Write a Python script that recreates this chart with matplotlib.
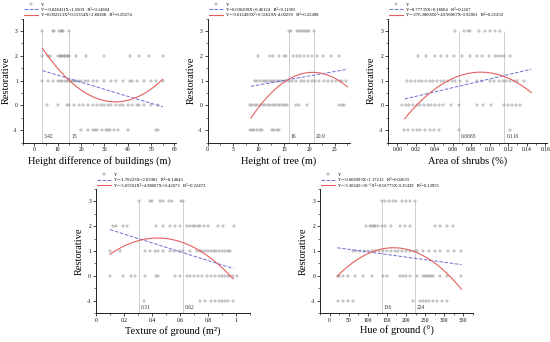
import numpy as np
import matplotlib
matplotlib.use("Agg")
import matplotlib.pyplot as plt
from matplotlib.ticker import AutoMinorLocator, MultipleLocator

plt.rcParams["font.family"] = ["Liberation Serif", "DejaVu Serif"]
plt.rcParams["axes.unicode_minus"] = False

# ── scatter data: x values at each Restorative level ─────────────
bld_pts = {
    3: [3.4, 8.1, 8.5, 10.7, 11.3, 11.7, 12.4, 15.0],
    2: [3.4, 6.0, 6.7, 10.0, 10.8, 11.5, 12.0, 12.6, 13.2, 13.8, 14.4, 15.0,
        18.0, 22.0, 30.0, 41.0, 45.0, 49.0, 55.0],
    1: [3.4, 6.0, 8.0, 10.0, 11.0, 12.0, 13.0, 14.0, 15.0, 15.8, 16.5, 17.2,
        18.0, 19.0, 20.0, 21.5, 23.0, 25.0, 27.0, 30.0, 33.0, 35.0, 38.0,
        41.0, 42.0, 44.0, 47.0, 50.0, 52.0, 55.0],
    0: [5.5, 10.0, 14.0, 15.0, 17.0, 19.0, 21.0, 23.0, 25.0, 27.0, 28.5,
        30.0, 31.5, 33.0, 35.0, 36.5, 38.0, 40.0, 42.0, 44.0, 45.0, 47.0,
        50.0, 53.0],
    -1: [20.0, 23.0, 25.0, 26.0, 27.0, 29.0, 30.5, 31.5, 32.5, 34.0, 36.0,
         40.0, 52.0, 53.0],
}
tree_pts = {
    3: [16.0, 16.4, 17.5, 18.0, 18.4, 18.8, 19.2, 19.6, 20.0, 20.9],
    2: [9.9, 12.3, 12.8, 14.1, 15.0, 15.5, 16.8, 17.5, 18.2, 19.0, 19.7,
        20.5, 21.6, 22.7, 24.3, 25.9],
    1: [9.4, 9.8, 10.3, 10.8, 11.2, 11.7, 12.2, 12.6, 13.1, 13.6, 14.0, 14.5,
        15.0, 15.5, 16.0, 16.6, 17.3, 18.4, 19.0, 19.8, 20.5, 21.2, 22.0,
        22.8, 23.6, 24.5, 25.3, 26.0, 26.4, 27.2],
    0: [8.3, 8.8, 9.3, 9.8, 10.3, 10.8, 11.3, 11.8, 12.3, 12.8, 13.3, 13.8,
        14.3, 14.8, 15.3, 15.7, 17.3, 17.9, 19.5, 25.9, 26.4, 26.9],
    -1: [8.3, 8.7, 9.2, 9.7, 10.2, 10.7, 12.6, 13.1, 13.6, 14.1],
}
shrub_pts = {
    3: [0.063, 0.072, 0.077, 0.079, 0.088, 0.095, 0.100, 0.106, 0.111],
    2: [0.022, 0.031, 0.041, 0.047, 0.054, 0.061, 0.070, 0.079, 0.086, 0.092,
        0.099, 0.106, 0.109, 0.112, 0.115, 0.122],
    1: [0.011, 0.015, 0.019, 0.023, 0.027, 0.031, 0.035, 0.039, 0.043, 0.047,
        0.051, 0.055, 0.059, 0.063, 0.068, 0.075, 0.086, 0.092, 0.100, 0.105,
        0.110, 0.114, 0.118, 0.122, 0.126, 0.130, 0.137],
    0: [0.005, 0.009, 0.013, 0.017, 0.021, 0.025, 0.029, 0.033, 0.037, 0.041,
        0.045, 0.050, 0.058, 0.067, 0.086, 0.093, 0.101, 0.115, 0.120, 0.124,
        0.128, 0.133],
    -1: [0.007, 0.012, 0.017, 0.021, 0.025, 0.030, 0.035, 0.040, 0.045,
         0.067, 0.122],
}
texture_pts = {
    3: [0.31, 0.385, 0.40, 0.46, 0.48, 0.52, 0.54, 0.61, 0.625],
    2: [0.12, 0.14, 0.19, 0.22, 0.43, 0.48, 0.53, 0.565, 0.60, 0.65, 0.67,
        0.69, 0.71, 0.73, 0.745, 0.77, 0.80, 0.87, 0.91, 0.985],
    1: [0.10, 0.17, 0.35, 0.385, 0.42, 0.445, 0.48, 0.53, 0.56, 0.59, 0.62,
        0.67, 0.72, 0.74, 0.76, 0.78, 0.80, 0.82, 0.84, 0.86, 0.88, 0.90,
        0.92, 0.94, 0.96],
    0: [0.10, 0.19, 0.25, 0.28, 0.35, 0.43, 0.445, 0.565, 0.60, 0.65, 0.67,
        0.70, 0.73, 0.76, 0.79, 0.82, 0.85, 0.88, 0.90, 0.92, 0.94, 0.96,
        0.98, 1.01],
    -1: [0.34, 0.745, 0.78, 0.82, 0.85, 0.88, 0.90, 0.92, 0.94, 0.98],
}
hue_pts = {
    3: [136, 145, 155, 165, 175, 190, 200, 210, 224],
    2: [96, 105, 110, 115, 120, 127, 136, 145, 160, 184, 197, 210, 275, 289,
        306, 324],
    1: [62, 70, 80, 90, 100, 110, 120, 130, 140, 150, 160, 170, 180, 190, 200,
        210, 220, 230, 245, 260, 275, 290, 310, 325, 345],
    0: [22, 26, 35, 48, 66, 88, 110, 140, 149, 184, 193, 201, 210, 228, 245,
        250, 255, 260, 265, 270, 289, 306, 345],
    -1: [22, 35, 48, 61, 219, 236, 244, 252, 260, 270, 280, 293, 306],
}

# ── fitted curves (coefficients from the legends) ───────────────
bld_lin = [-0.028411, 1.5009]
bld_quad = [0.002213, -0.15354, 2.80288]
tree_lin = [0.036209, 0.46124]
tree_quad = [-0.012493, 0.51629, -4.00259]
shrub_lin = [8.77735, 0.18684]
shrub_quad = [-276.30600, 49.96967, -0.92001]
texture_lin = [-1.78223, 2.03981]
texture_quad = [-5.65591, 4.98067, 0.42673]
hue_lin = [-0.002093, 1.17212]
hue_quad = [-5.30345e-5, 0.01775, -0.35439]

bld_lbl = ["Y=-0.028411X+1.5009   R²=0.14604",
           "Y=0.002213X²-0.15354X+2.80288   R²=0.29274"]
tree_lbl = ["Y=0.036209X+0.46124   R²=0.11383",
            "Y=-0.012493X²+0.51629X-4.00259   R²=0.22498"]
shrub_lbl = ["Y=8.77735X+0.18684   R²=0.1167",
             "Y=-276.30600X²+49.96967X-0.92001   R²=0.21250"]
texture_lbl = ["Y=-1.78223X+2.03981   R²=0.14643",
               "Y=-5.65591X²+4.98067X+0.42673   R²=0.22472"]
hue_lbl = ["Y=-0.002093X+1.17212   R²=0.02633",
           "Y=-5.30345×10⁻⁵X²+0.01775X-0.35439   R²=0.13955"]

# vertical reference lines (turning points)
bld_vl = [3.42, 15]
tree_vl = [16, 20.9]
shrub_vl = [0.0665, 0.116]
texture_vl = [0.31, 0.62]
hue_vl = [136, 224]

panels = [
    dict(pts=bld_pts, lin=bld_lin, quad=bld_quad, lbl=bld_lbl, vl=bld_vl,
         vl_txt=["3.42", "15"], fit=(3.42, 55), xlim=(-5, 60.5), major=10,
         xlabel="Height difference of buildings (m)", fmt="{:.0f}",
         rect=[0.0413, 0.5833, 0.278, 0.3623]),
    dict(pts=tree_pts, lin=tree_lin, quad=tree_quad, lbl=tree_lbl, vl=tree_vl,
         vl_txt=["16", "20.9"], fit=(8.5, 27.5), xlim=(5, 28), major=5,
         xlabel="Height of tree (m)", fmt="{:.0f}",
         rect=[0.3776, 0.5833, 0.2587, 0.3623]),
    dict(pts=shrub_pts, lin=shrub_lin, quad=shrub_quad, lbl=shrub_lbl,
         vl=shrub_vl, vl_txt=["0.0665", "0.116"], fit=(0.008, 0.145),
         xlim=(-0.01, 0.162), major=0.02, xlabel="Area of shrubs (%)",
         fmt="{:.2f}", rect=[0.7055, 0.5833, 0.289, 0.3623]),
    dict(pts=texture_pts, lin=texture_lin, quad=texture_quad, lbl=texture_lbl,
         vl=texture_vl, vl_txt=["0.31", "0.62"], fit=(0.1, 0.98),
         xlim=(0, 1.1), major=0.2, xlabel="Texture of ground (m²)",
         fmt="{:g}", rect=[0.1745, 0.085, 0.28, 0.3623]),
    dict(pts=hue_pts, lin=hue_lin, quad=hue_quad, lbl=hue_lbl, vl=hue_vl,
         vl_txt=["136", "224"], fit=(20, 345), xlim=(-25, 375), major=50,
         xlabel="Hue of ground (°)", fmt="{:.0f}",
         rect=[0.5818, 0.085, 0.278, 0.3623]),
]

fig = plt.figure(figsize=(5.5, 3.42), dpi=100)

for p in panels:
    ax = fig.add_axes(p["rect"])
    xs, ys = [], []
    for lvl, vals in p["pts"].items():
        xs += vals
        ys += [lvl] * len(vals)
    ax.plot(xs, ys, "+", color="#8a8a8a", markersize=3.0, markeredgewidth=0.35,
            label="Y", zorder=2)

    ax.vlines(p["vl"], -1.5, 3, color="#c8c8c8", linewidth=0.6, zorder=1)
    span = p["xlim"][1] - p["xlim"][0]
    for xv, t in zip(p["vl"], p["vl_txt"]):
        ax.text(xv + span * 0.012, -1.27, t, fontsize=4, color="#333333",
                va="center", ha="left")

    xf = np.linspace(p["fit"][0], p["fit"][1], 200)
    ax.plot(xf, np.polyval(p["lin"], xf), "--", color="#6f6fd6",
            linewidth=0.7, label=p["lbl"][0], zorder=3)
    ax.plot(xf, np.polyval(p["quad"], xf), "-", color="#e46060",
            linewidth=0.8, label=p["lbl"][1], zorder=3)

    ax.set_xlim(*p["xlim"])
    ax.set_ylim(-1.5, 3.5)
    ax.xaxis.set_minor_locator(AutoMinorLocator(2))
    ax.yaxis.set_major_locator(MultipleLocator(1))
    ax.yaxis.set_minor_locator(AutoMinorLocator(2))
    n_ticks = int(np.floor(p["xlim"][1] / p["major"] + 1e-6)) + 1
    ticks = [round(i * p["major"], 6) for i in range(n_ticks)]
    ax.set_xticks(ticks)
    ax.set_xticklabels([p["fmt"].format(t) for t in ticks])
    ax.xaxis.set_minor_locator(MultipleLocator(p["major"] / 2))
    ax.tick_params(axis="both", which="major", labelsize=4, length=2,
                   width=0.5, pad=1.5, direction="out")
    ax.tick_params(axis="both", which="minor", length=1.2, width=0.4,
                   direction="out")
    for s in ["top", "right"]:
        ax.spines[s].set_visible(False)
    for s in ["left", "bottom"]:
        ax.spines[s].set_linewidth(0.6)

    ax.set_xlabel(p["xlabel"], fontsize=7.5, labelpad=2.5)
    ax.set_ylabel("Restorative", fontsize=7.5, labelpad=2)

    ax.legend(loc="lower left", bbox_to_anchor=(0.0, 1.0), fontsize=3.3,
              frameon=False, handlelength=3.0, handletextpad=0.6,
              labelspacing=0.25, borderaxespad=0.2, borderpad=0.1)

fig.savefig("out.png", dpi=100)
